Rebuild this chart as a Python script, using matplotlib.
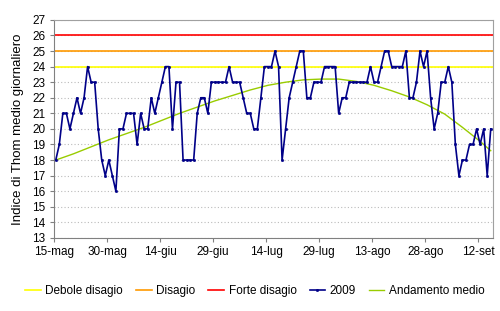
import numpy as np
import pandas as pd
import matplotlib
matplotlib.use("Agg")
import matplotlib.pyplot as plt

plt.rcParams['font.family'] = ['Liberation Sans', 'DejaVu Sans']

# ---- data ----
start = pd.Timestamp('2009-05-15')
values_2009 = [
    18, 19, 21, 21, 20, 21, 22, 21, 22, 24,
    23, 23, 20, 18, 17, 18, 17, 16, 20, 20,
    21, 21, 21, 19, 21, 20, 20, 22, 21, 22,
    23, 24, 24, 20, 23, 23, 18, 18, 18, 18,
    21, 22, 22, 21, 23, 23, 23, 23, 23, 24,
    23, 23, 23, 22, 21, 21, 20, 20, 22, 24,
    24, 24, 25, 24, 18, 20, 22, 23, 24, 25,
    25, 22, 22, 23, 23, 23, 24, 24, 24, 24,
    21, 22, 22, 23, 23, 23, 23, 23, 23, 24,
    23, 23, 24, 25, 25, 24, 24, 24, 24, 25,
    22, 22, 23, 25, 24, 25, 22, 20, 21, 23,
    23, 24, 23, 19, 17, 18, 18, 19, 19, 20,
    19, 20, 17, 20,
]
trend_days = [0, 5, 10, 15, 20, 25, 30, 35, 40, 45, 50, 55, 60, 65,
              70, 75, 80, 85, 90, 95, 100, 105, 110, 115, 120, 123]
trend_values = [18.0, 18.4, 18.85, 19.3, 19.7, 20.1, 20.55, 21.0, 21.4,
                21.8, 22.15, 22.5, 22.8, 23.0, 23.15, 23.2, 23.2, 23.05,
                22.8, 22.45, 22.05, 21.55, 20.95, 20.1, 19.2, 18.6]
thresholds = [24, 25, 26]
threshold_labels = ['Debole disagio', 'Disagio', 'Forte disagio']
threshold_colors = ['#FFFF00', '#FF9900', '#FF0000']
tick_labels = ['15-mag', '30-mag', '14-giu', '29-giu', '14-lug',
               '29-lug', '13-ago', '28-ago', '12-set']

half = pd.Timedelta(hours=12)
dates = start + pd.to_timedelta(np.arange(len(values_2009)), unit='D') + half
trend_dates = start + pd.to_timedelta(np.array(trend_days), unit='D') + half
tick_dates = pd.date_range(start, periods=len(tick_labels), freq='15D')

fig = plt.figure(figsize=(5.0, 3.11), dpi=100)
ax = fig.add_axes([0.108, 0.235, 0.877, 0.701])

for y, lab, c in zip(thresholds, threshold_labels, threshold_colors):
    ax.axhline(y, color=c, lw=1.2, label=lab, zorder=2)

ax.plot(dates, values_2009, color='#000088', lw=1.2, marker='o', ms=1.6,
        mew=0.5, label='2009', zorder=4)
ax.plot(trend_dates, trend_values, color='#99CC00', lw=1.0,
        label='Andamento medio', zorder=3)

ax.set_xlim(start, start + pd.Timedelta(days=len(values_2009)))
ax.set_ylim(13, 27)
ax.set_yticks(range(13, 28))
ax.set_xticks(tick_dates)
ax.set_xticklabels(tick_labels)
ax.tick_params(axis='both', labelsize=8.5, length=3, width=0.8,
               color='#808080', direction='out', pad=3)
ax.yaxis.grid(True, color='#BBBBBB', ls=(0, (1, 2)), lw=0.8)
ax.set_axisbelow(True)
for side in ['top', 'right']:
    ax.spines[side].set_color('#A0A0A0')
    ax.spines[side].set_linewidth(0.8)
for side in ['left', 'bottom']:
    ax.spines[side].set_color('#808080')
    ax.spines[side].set_linewidth(0.8)
ax.set_ylabel('Indice di Thom medio giornaliero', fontsize=9.5, labelpad=6)

fig.legend(loc='center', bbox_to_anchor=(0.51, 0.064), ncol=5,
           frameon=False, fontsize=8.5, handlelength=1.3,
           handletextpad=0.4, columnspacing=1.1)

fig.savefig('out.png', dpi=100)
